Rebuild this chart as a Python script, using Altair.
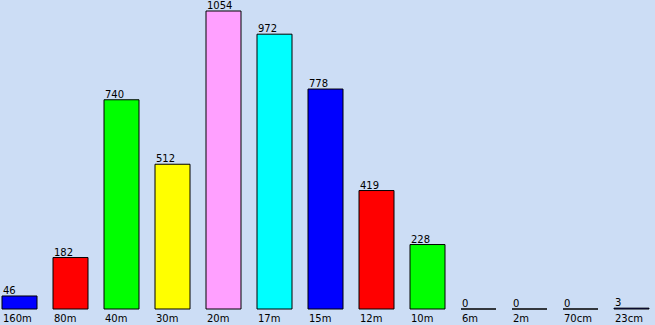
import altair as alt
import pandas as pd

bands = ["160m", "80m", "40m", "30m", "20m", "17m", "15m", "12m", "10m", "6m", "2m", "70cm", "23cm"]
counts = [46, 182, 740, 512, 1054, 972, 778, 419, 228, 0, 0, 0, 3]
colors = ["#0000FF", "#FF0000", "#00FF00", "#FFFF00", "#FFA0FF", "#00FFFF",
          "#0000FF", "#FF0000", "#00FF00", "#FFFF00", "#FFA0FF", "#00FFFF", "#0000FF"]

df = pd.DataFrame({"band": bands, "count": counts, "color": colors})

def xenc(bp=None):
    kw = dict(sort=bands, axis=None,
              scale=alt.Scale(paddingInner=16/51, paddingOuter=0, align=0))
    if bp is not None:
        kw["bandPosition"] = bp
    return alt.X("band:N", **kw)

y = alt.Y("count:Q", axis=None, scale=alt.Scale(domain=[0, 1054], nice=False, zero=True))

bars = alt.Chart(df).mark_bar(stroke="black", strokeWidth=1, size=35).encode(
    x=xenc(), y=y, color=alt.Color("color:N", scale=None)
)

vals = alt.Chart(df).mark_text(align="left", baseline="alphabetic", dy=-2, dx=1,
                               font="DejaVu Sans", fontSize=10, color="black").encode(
    x=xenc(0), y=y, text="count:Q"
)

labs = alt.Chart(df).mark_text(align="left", baseline="alphabetic", dx=1,
                               font="DejaVu Sans", fontSize=10, color="black").encode(
    x=xenc(0), y=alt.value(311), text="band:N"
)

chart = alt.layer(bars, vals, labs).properties(
    width=647, height=298,
    background="#CCDDF5",
    padding={"left": 2, "top": 11, "right": 6, "bottom": 16},
    autosize=alt.AutoSizeParams(type="none"),
).configure_view(stroke=None)

chart.save("out.html", embed_options={"renderer": "svg", "actions": False})
